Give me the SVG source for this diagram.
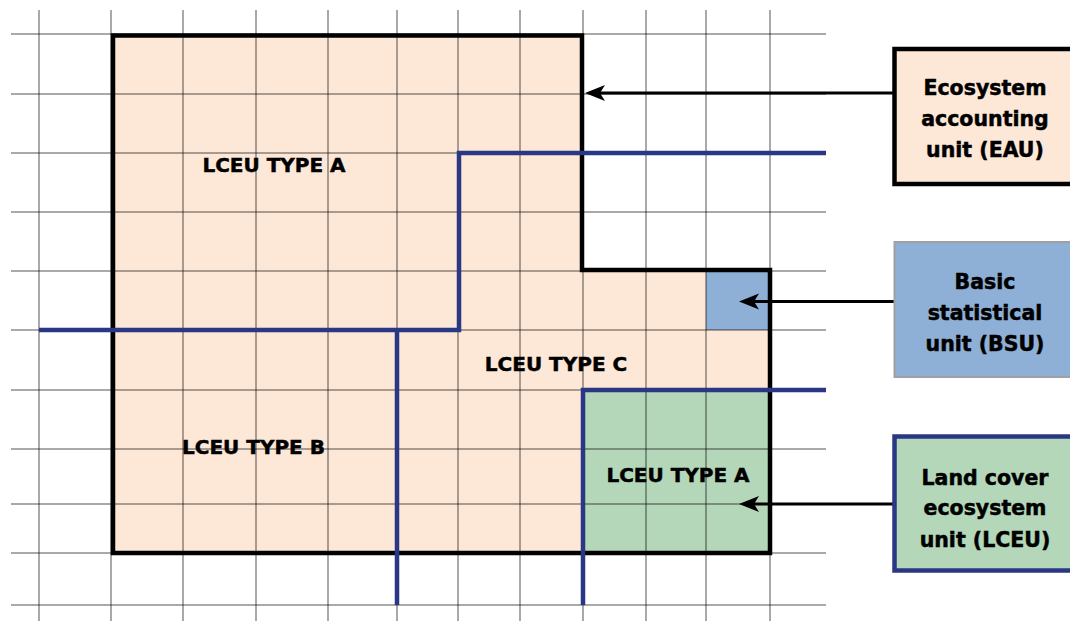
<svg xmlns="http://www.w3.org/2000/svg" width="1070" height="621" viewBox="0 0 1070 621">
<defs>
<style>
.grid line{stroke:#000;stroke-opacity:0.45;stroke-width:1.5}
.blue{fill:none;stroke:#2a3784;stroke-width:4.5;stroke-linejoin:miter}
.lbl{font-family:"DejaVu Sans",sans-serif;font-weight:bold;font-size:20px;fill:#000;stroke:#000;stroke-width:0.5;text-anchor:middle}
.box{font-family:"DejaVu Sans",sans-serif;font-weight:bold;font-size:20.5px;fill:#000;stroke:#000;stroke-width:0.5;text-anchor:middle}
.conn{stroke:#000;stroke-width:3.2;fill:none}
.head{fill:#000}
</style>
</defs>
<rect width="1070" height="621" fill="#fff"/>
<g id="eau-area">
<path d="M113,35.5 H582 V270 H770 V553 H113 Z" fill="#fde8d8"/>
</g>
<g id="lceu-green-area">
<rect x="582" y="390" width="188" height="163" fill="#b3d7b8"/>
</g>
<g id="bsu-cell">
<rect x="706" y="271" width="64" height="59" fill="#8eb0d6"/>
</g>
<g class="grid" id="grid">
<line x1="11" y1="34" x2="826" y2="34"/>
<line x1="11" y1="94" x2="826" y2="94"/>
<line x1="11" y1="153" x2="826" y2="153"/>
<line x1="11" y1="212" x2="826" y2="212"/>
<line x1="11" y1="271" x2="826" y2="271"/>
<line x1="11" y1="330" x2="826" y2="330"/>
<line x1="11" y1="390" x2="826" y2="390"/>
<line x1="11" y1="449" x2="826" y2="449"/>
<line x1="11" y1="504" x2="826" y2="504"/>
<line x1="11" y1="553" x2="826" y2="553"/>
<line x1="11" y1="605" x2="826" y2="605"/>
<line x1="39" y1="10" x2="39" y2="621"/>
<line x1="111" y1="10" x2="111" y2="621"/>
<line x1="183" y1="10" x2="183" y2="621"/>
<line x1="256" y1="10" x2="256" y2="621"/>
<line x1="328" y1="10" x2="328" y2="621"/>
<line x1="397" y1="10" x2="397" y2="621"/>
<line x1="458" y1="10" x2="458" y2="621"/>
<line x1="520" y1="10" x2="520" y2="621"/>
<line x1="583" y1="10" x2="583" y2="621"/>
<line x1="646" y1="10" x2="646" y2="621"/>
<line x1="706" y1="10" x2="706" y2="621"/>
<line x1="770" y1="10" x2="770" y2="621"/>
</g>
<g id="eau-outline">
<path d="M113,35.5 H582 V270 H770 V553 H113 Z" fill="none" stroke="#000" stroke-width="4.5"/>
</g>
<g id="lceu-boundaries">
<path class="blue" d="M39,330 H459 V153 H826"/>
<path class="blue" d="M397,330 V605"/>
<path class="blue" d="M583,605 V390 H826"/>
</g>
<g id="labels">
<text class="lbl" x="274" y="171.5">LCEU TYPE A</text>
<text class="lbl" x="556" y="370.5">LCEU TYPE C</text>
<text class="lbl" x="253.5" y="454">LCEU TYPE B</text>
<text class="lbl" x="678" y="481.5">LCEU TYPE A</text>
</g>
<g id="connectors">
<line class="conn" x1="894" y1="93" x2="598" y2="93"/>
<path class="head" d="M585,93 L605,85 L600,93 L605,101 Z"/>
<line class="conn" x1="894" y1="301.5" x2="752" y2="301.5"/>
<path class="head" d="M739,301.5 L759,293.5 L754,301.5 L759,309.5 Z"/>
<line class="conn" x1="894" y1="504" x2="752" y2="504"/>
<path class="head" d="M739,504 L759,496 L754,504 L759,512 Z"/>
</g>
<g id="node-eau">
<rect x="894.5" y="49" width="190" height="135" fill="#fde8d8" stroke="#000" stroke-width="4.5"/>
<text class="box" x="985" y="95">Ecosystem</text>
<text class="box" x="985" y="126">accounting</text>
<text class="box" x="985" y="157">unit (EAU)</text>
</g>
<g id="node-bsu">
<rect x="894.5" y="242" width="190" height="135" fill="#8eb0d6" stroke="#a0a0a0" stroke-width="2"/>
<text class="box" x="985" y="288.5">Basic</text>
<text class="box" x="985" y="319.5">statistical</text>
<text class="box" x="985" y="350.5">unit (BSU)</text>
</g>
<g id="node-lceu">
<rect x="894.5" y="436.5" width="190" height="134" fill="#b3d7b8" stroke="#2a3784" stroke-width="4.5"/>
<text class="box" x="985" y="484.5">Land cover</text>
<text class="box" x="985" y="515">ecosystem</text>
<text class="box" x="985" y="546.5">unit (LCEU)</text>
</g>
</svg>
